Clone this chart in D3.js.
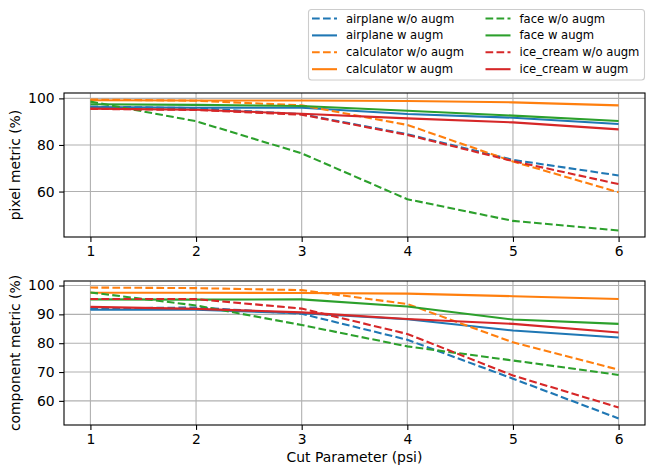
<!DOCTYPE html>
<html>
<head>
<meta charset="utf-8">
<script src="https://cdn.jsdelivr.net/npm/d3@7"></script>
<style>
  body { margin: 0; background: #fff; }
  svg { font-family: "DejaVu Sans", sans-serif; }
</style>
</head>
<body>
<svg id="chart"></svg>
<script>
// x values
const cutParams = [1, 2, 3, 4, 5, 6];

// pixel metric (%)
const airplaneWoPixel   = [96.5, 95.8, 93.2, 84.6, 73.6, 66.9];
const airplaneWPixel    = [96.3, 96.0, 96.0, 93.3, 91.7, 89.0];
const calculatorWoPixel = [99.5, 99.0, 97.0, 88.6, 72.9, 59.7];
const calculatorWPixel  = [99.2, 99.1, 99.1, 98.9, 98.3, 97.0];
const faceWoPixel       = [98.6, 90.2, 76.4, 56.7, 47.4, 43.3];
const faceWPixel        = [97.5, 97.2, 96.7, 94.7, 92.6, 90.3];
const iceWoPixel        = [95.5, 95.0, 93.0, 84.3, 73.1, 63.2];
const iceWPixel         = [95.6, 95.1, 93.4, 91.4, 89.7, 86.7];

// component metric (%)
const airplaneWoComp   = [92.0, 92.4, 90.2, 81.2, 67.7, 53.9];
const airplaneWComp    = [91.6, 91.6, 90.4, 88.3, 84.4, 82.0];
const calculatorWoComp = [99.3, 99.1, 98.4, 93.6, 80.3, 70.8];
const calculatorWComp  = [97.5, 97.5, 97.4, 97.2, 96.3, 95.3];
const faceWoComp       = [97.6, 93.1, 86.3, 78.9, 74.0, 69.0];
const faceWComp        = [95.2, 95.1, 95.2, 92.7, 88.2, 86.7];
const iceWoComp        = [95.3, 95.3, 92.0, 83.2, 68.8, 57.7];
const iceWComp         = [92.6, 91.9, 90.7, 88.4, 86.7, 83.7];

const seriesNames = ['airplane w/o augm', 'airplane w augm', 'calculator w/o augm', 'calculator w augm',
  'face w/o augm', 'face w augm', 'ice_cream w/o augm', 'ice_cream w augm'];
const seriesColors = ['#1f77b4', '#1f77b4', '#ff7f0e', '#ff7f0e', '#2ca02c', '#2ca02c', '#d62728', '#d62728'];
const seriesDashed = [true, false, true, false, true, false, true, false];

const xTicks = [1, 2, 3, 4, 5, 6];
const pixelTicks = [60, 80, 100];
const compTicks = [60, 70, 80, 90, 100];

const pixelData = [airplaneWoPixel, airplaneWPixel, calculatorWoPixel, calculatorWPixel,
  faceWoPixel, faceWPixel, iceWoPixel, iceWPixel];
const compData = [airplaneWoComp, airplaneWComp, calculatorWoComp, calculatorWComp,
  faceWoComp, faceWComp, iceWoComp, iceWComp];

// Setup SVG environment
const width = 647;
const height = 471;
const svg = d3.select('#chart').attr('width', width).attr('height', height);

const left = 64, right = 645;
const panels = [
  { top: 93, bottom: 237, data: pixelData, ticks: pixelTicks, label: 'pixel metric (%)' },
  { top: 281, bottom: 425, data: compData, ticks: compTicks, label: 'component metric (%)' }
];

// matplotlib-style 5% padding
function padded(ext) {
  const m = (ext[1] - ext[0]) * 0.05;
  return [ext[0] - m, ext[1] + m];
}

const xScale = d3.scaleLinear()
  .domain(padded(d3.extent(cutParams)))
  .range([left, right]);

const dash = '7.7,3.3';

panels.forEach((p, pi) => {
  const all = p.data.flat();
  const yScale = d3.scaleLinear()
    .domain(padded(d3.extent(all)))
    .range([p.bottom, p.top]);

  const g = svg.append('g');

  // grid
  g.selectAll('.xgrid').data(xTicks).join('line')
    .attr('x1', d => xScale(d)).attr('x2', d => xScale(d))
    .attr('y1', p.top).attr('y2', p.bottom)
    .attr('stroke', '#b0b0b0').attr('stroke-width', 1.1);
  g.selectAll('.ygrid').data(p.ticks).join('line')
    .attr('x1', left).attr('x2', right)
    .attr('y1', d => yScale(d)).attr('y2', d => yScale(d))
    .attr('stroke', '#b0b0b0').attr('stroke-width', 1.1);

  // lines
  const lineGen = d3.line()
    .x((d, i) => xScale(cutParams[i]))
    .y(d => yScale(d));

  g.selectAll('.line').data(p.data).join('path')
    .attr('d', d => lineGen(d))
    .attr('fill', 'none')
    .attr('stroke', (d, i) => seriesColors[i])
    .attr('stroke-width', 2.08)
    .attr('stroke-dasharray', (d, i) => seriesDashed[i] ? dash : null);

  // axes
  const xAxis = g.append('g')
    .attr('transform', `translate(0, ${p.bottom})`)
    .call(d3.axisBottom(xScale).tickValues(xTicks).tickFormat(d3.format('d')).tickSize(4.9).tickPadding(4.5));
  const yAxis = g.append('g')
    .attr('transform', `translate(${left}, 0)`)
    .call(d3.axisLeft(yScale).tickValues(p.ticks).tickFormat(d3.format('d')).tickSize(4.9).tickPadding(4.5));
  [xAxis, yAxis].forEach(a => {
    a.select('.domain').remove();
    a.selectAll('line').attr('stroke', '#000').attr('stroke-width', 1.1);
    a.selectAll('text').attr('font-size', 13.9).attr('fill', '#000')
      .attr('font-family', '"DejaVu Sans", sans-serif');
  });

  // frame
  g.append('rect')
    .attr('x', left).attr('y', p.top)
    .attr('width', right - left).attr('height', p.bottom - p.top)
    .attr('fill', 'none').attr('stroke', '#000').attr('stroke-width', 1.1);

  // y label
  g.append('text')
    .attr('transform', 'rotate(-90)')
    .attr('x', -(p.top + p.bottom) / 2)
    .attr('y', 20)
    .attr('text-anchor', 'middle')
    .attr('font-size', 13.9)
    .text(p.label);
});

// x label
svg.append('text')
  .attr('x', (left + right) / 2)
  .attr('y', 462)
  .attr('text-anchor', 'middle')
  .attr('font-size', 13.9)
  .text('Cut Parameter (psi)');

// legend
const legend = svg.append('g');
legend.append('rect')
  .attr('x', 308.5).attr('y', 9.5)
  .attr('width', 336).attr('height', 70.5)
  .attr('rx', 3).attr('fill', '#fff').attr('fill-opacity', 0.8)
  .attr('stroke', '#cccccc').attr('stroke-width', 1.1);

const legendItems = legend.selectAll('.legend-item')
  .data(seriesNames)
  .join('g')
  .attr('transform', (d, i) => {
    const col = Math.floor(i / 4), row = i % 4;
    return `translate(${col === 0 ? 312 : 485.5}, ${18.5 + row * 16.9})`;
  });

legendItems.append('line')
  .attr('x1', 0).attr('x2', 25).attr('y1', 0).attr('y2', 0)
  .attr('stroke', (d, i) => seriesColors[i])
  .attr('stroke-width', 2.08)
  .attr('stroke-dasharray', (d, i) => seriesDashed[i] ? dash : null);

legendItems.append('text')
  .attr('x', 34)
  .attr('y', 0)
  .attr('dy', '0.35em')
  .attr('font-size', 11.6)
  .text(d => d);
</script>
</body>
</html>
